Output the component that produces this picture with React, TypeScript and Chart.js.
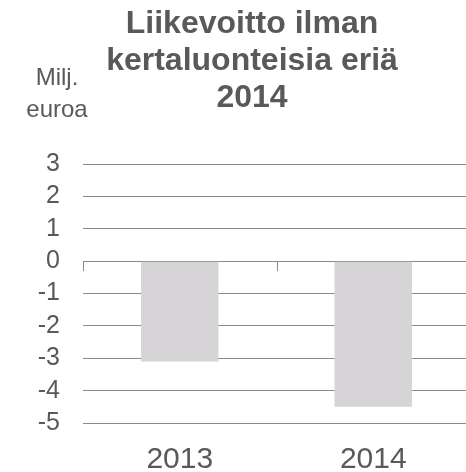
import React, { useEffect, useRef } from "react";
import { Chart, registerables } from "chart.js";

Chart.register(...registerables);

const categories = ["2013", "2014"];
const values = [-3.1, -4.5];
const yMin = -5;
const yMax = 3;
const titleLines = ["Liikevoitto ilman", "kertaluonteisia eriä", "2014"];
const unitLines = ["Milj.", "euroa"];

const FONT = '"Liberation Sans", Arial, Helvetica, sans-serif';
const TEXT = "#595959";
const GRID = "#8a8a8a";

const zeroTicks = {
  id: "zeroTicks",
  afterDatasetsDraw(chart: any) {
    const x = chart.scales.x;
    const y = chart.scales.y;
    const y0 = y.getPixelForValue(0);
    const n = chart.data.labels.length;
    const w = x.width / n;
    const ctx = chart.ctx;
    ctx.save();
    ctx.strokeStyle = GRID;
    ctx.lineWidth = 1;
    for (let i = 0; i <= n; i++) {
      const px = Math.round(x.left + i * w) + 0.5;
      ctx.beginPath();
      ctx.moveTo(px, y0);
      ctx.lineTo(px, y0 + 10);
      ctx.stroke();
    }
    ctx.restore();
  },
};

export default function App() {
  const ref = useRef<HTMLCanvasElement | null>(null);
  useEffect(() => {
    document.body.style.margin = "0";
    document.documentElement.style.overflow = "hidden";
    document.body.style.overflow = "hidden";
    const chart = new Chart(ref.current as HTMLCanvasElement, {
      type: "bar",
      data: {
        labels: categories,
        datasets: [
          {
            data: values,
            backgroundColor: "#d6d4d6",
            borderWidth: 0,
            categoryPercentage: 1,
            barPercentage: 0.4,
          },
        ],
      },
      plugins: [zeroTicks],
      options: {
        animation: false,
        responsive: false,
        maintainAspectRatio: false,
        layout: { padding: { top: 164, left: 0, right: 0, bottom: 0 } },
        plugins: {
          legend: { display: false },
          title: { display: false },
          tooltip: { enabled: false },
        },
        scales: {
          x: {
            grid: { display: false },
            border: { display: false },
            ticks: {
              color: TEXT,
              font: { family: FONT, size: 30 },
              padding: 11,
              maxRotation: 0,
            },
            afterFit: (s: any) => {
              s.height = 54;
            },
          },
          y: {
            min: yMin,
            max: yMax,
            ticks: {
              stepSize: 1,
              autoSkip: false,
              color: TEXT,
              font: { family: FONT, size: 25 },
              padding: 23,
            },
            grid: { color: GRID, lineWidth: 1, drawTicks: false },
            border: { display: false },
            afterFit: (s: any) => {
              s.width = 83;
            },
          },
        },
      },
    });
    return () => chart.destroy();
  }, []);

  return (
    <div style={{ position: "relative", width: 470, height: 477 }}>
      <canvas
        ref={ref}
        width={470}
        height={477}
        style={{ position: "absolute", left: 0, top: 0, width: 470, height: 477 }}
      />
      <div
        style={{
          position: "absolute",
          left: 52,
          top: 4,
          width: 400,
          textAlign: "center",
          fontFamily: FONT,
          fontWeight: "bold",
          fontSize: 32,
          lineHeight: "37px",
          color: TEXT,
        }}
      >
        {titleLines.map((l) => (
          <div key={l}>{l}</div>
        ))}
      </div>
      <div
        style={{
          position: "absolute",
          left: 7,
          top: 61,
          width: 100,
          textAlign: "center",
          fontFamily: FONT,
          fontSize: 24,
          lineHeight: "32px",
          color: TEXT,
        }}
      >
        {unitLines.map((l) => (
          <div key={l}>{l}</div>
        ))}
      </div>
    </div>
  );
}
